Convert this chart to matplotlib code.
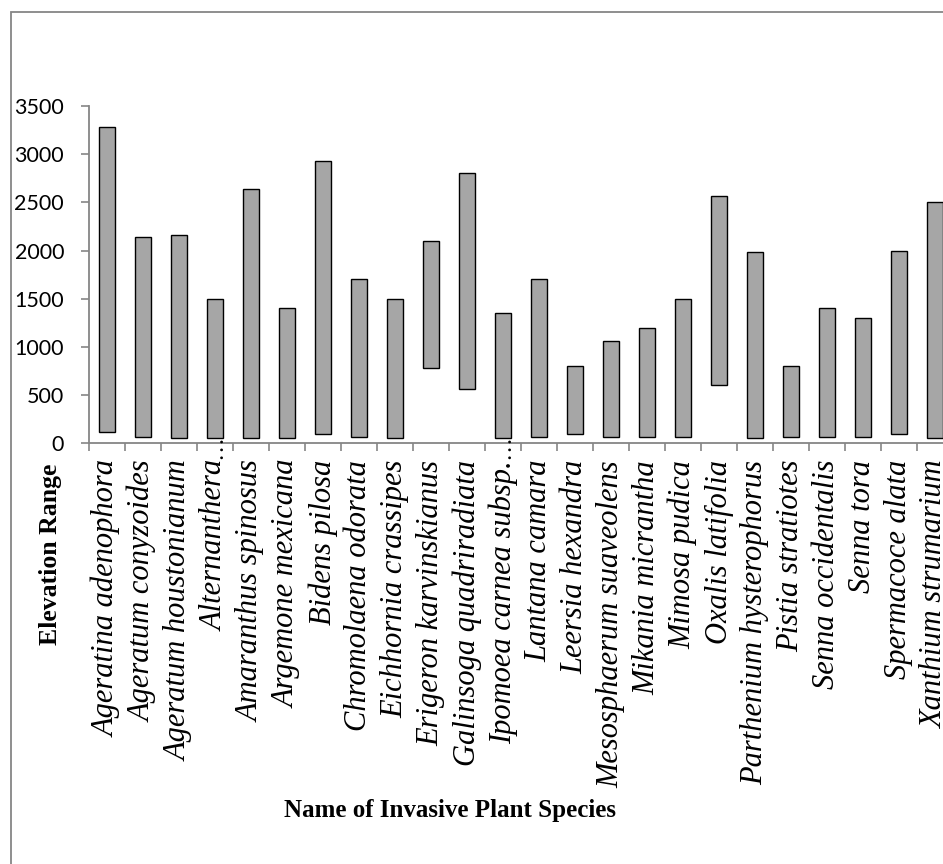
import matplotlib
matplotlib.use("Agg")
import matplotlib.pyplot as plt
from matplotlib.patches import Rectangle
from matplotlib.transforms import blended_transform_factory, offset_copy

species = [
    "Ageratina adenophora", "Ageratum conyzoides", "Ageratum houstonianum",
    "Alternanthera", "Amaranthus spinosus", "Argemone mexicana",
    "Bidens pilosa", "Chromolaena odorata", "Eichhornia crassipes",
    "Erigeron karvinskianus", "Galinsoga quadriradiata", "Ipomoea carnea subsp.",
    "Lantana camara", "Leersia hexandra", "Mesosphaerum suaveolens",
    "Mikania micrantha", "Mimosa pudica", "Oxalis latifolia",
    "Parthenium hysterophorus", "Pistia stratiotes", "Senna occidentalis",
    "Senna tora", "Spermacoce alata", "Xanthium strumarium",
]
elev_min = [120, 65, 50, 50, 50, 50, 100, 65, 50, 780, 560, 50,
            65, 100, 65, 65, 65, 600, 50, 65, 65, 65, 100, 50]
elev_max = [3280, 2140, 2160, 1500, 2640, 1400, 2930, 1710, 1500, 2100, 2800, 1350,
            1710, 800, 1060, 1200, 1500, 2570, 1990, 800, 1400, 1300, 2000, 2500]
truncated = ["Alternanthera", "Ipomoea carnea subsp."]
yticks = [0, 500, 1000, 1500, 2000, 2500, 3000, 3500]

W, H = 943, 864
fig = plt.figure(figsize=(W / 100, H / 100), dpi=100)
fig.patch.set_facecolor("white")

axl, axr, y0, y1 = 89, 953, 443.3, 106
ax = fig.add_axes([axl / W, (H - y0) / H, (axr - axl) / W, (y0 - y1) / H])

n = len(species)
centers = [i + 0.5 for i in range(n)]
heights = [b - a for a, b in zip(elev_min, elev_max)]
ax.bar(centers, heights, bottom=elev_min, width=0.42, color="#A6A6A6",
       edgecolor="black", linewidth=1.0, zorder=3)

ax.set_xlim(0, n)
ax.set_ylim(0, 3500)

gray = "#868686"
for s in ["top", "right"]:
    ax.spines[s].set_visible(False)
for s in ["left", "bottom"]:
    ax.spines[s].set_color(gray)
    ax.spines[s].set_linewidth(1.3)

ax.set_yticks(yticks)
ax.set_yticklabels([str(v) for v in yticks], fontfamily="Lato", fontsize=15.5)
ax.tick_params(axis="y", direction="out", length=6, width=1.2, color=gray, pad=12)

ax.set_xticks(range(n + 1))
ax.set_xticklabels([])
ax.tick_params(axis="x", which="major", direction="out", length=6, width=1.2, color=gray)
ax.set_xticks(centers, minor=True)
ax.set_xticklabels(species, minor=True, rotation=90, fontfamily="Liberation Serif",
                   fontstyle="italic", fontsize=22, va="top", ha="center")
ax.tick_params(axis="x", which="minor", length=0, pad=12)

# truncation ellipses protruding above the axis
trans = blended_transform_factory(ax.transData, ax.transAxes)
for name in truncated:
    i = species.index(name)
    ax.text(centers[i], 0, "\u2026", rotation=90, ha="center", va="center",
            fontfamily="Liberation Serif", fontstyle="italic", fontsize=17,
            transform=offset_copy(trans, fig=fig, x=2, y=-4, units="points"),
            clip_on=False)

fig.text(51 / W, 1 - 554 / H, "Elevation Range", rotation=90, ha="center", va="center",
         fontfamily="Liberation Serif", fontweight="bold", fontsize=18.5)
fig.text(450 / W, 1 - 810 / H, "Name of Invasive Plant Species", ha="center", va="center",
         fontfamily="Liberation Serif", fontweight="bold", fontsize=18)

fig.add_artist(Rectangle((11 / W, -0.1), 2, 1 - 12 / H + 0.1, transform=fig.transFigure,
                         fill=False, edgecolor=gray, linewidth=1.3))

fig.savefig("out.png", dpi=100)
